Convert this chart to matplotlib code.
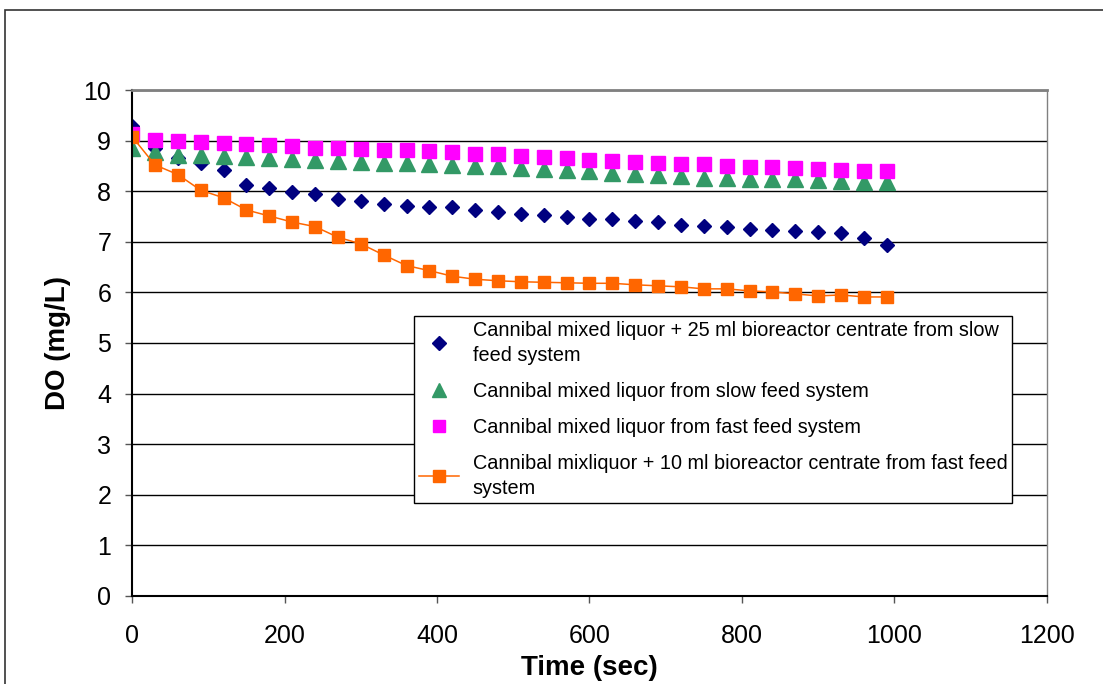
import matplotlib.pyplot as plt
from matplotlib.patches import Rectangle

# time axis (sec), sampled every 30 s
time_sec = list(range(0, 991, 30))

# DO readings (mg/L)
do_slow_centrate = [9.28, 8.85, 8.65, 8.55, 8.42, 8.12, 8.06, 7.98, 7.94, 7.84, 7.80, 7.75,
                    7.71, 7.69, 7.68, 7.63, 7.58, 7.55, 7.52, 7.49, 7.46, 7.46, 7.41, 7.39,
                    7.33, 7.31, 7.29, 7.25, 7.24, 7.22, 7.20, 7.18, 7.07, 6.94]
do_slow = [8.85, 8.78, 8.72, 8.71, 8.70, 8.67, 8.65, 8.64, 8.62, 8.60, 8.58, 8.55,
           8.55, 8.53, 8.52, 8.50, 8.49, 8.45, 8.43, 8.41, 8.39, 8.35, 8.34, 8.33,
           8.31, 8.27, 8.27, 8.25, 8.25, 8.24, 8.22, 8.21, 8.19, 8.19]
do_fast = [9.14, 9.02, 8.99, 8.97, 8.95, 8.93, 8.91, 8.89, 8.86, 8.85, 8.83, 8.81,
           8.81, 8.80, 8.77, 8.74, 8.73, 8.70, 8.68, 8.66, 8.62, 8.60, 8.58, 8.55,
           8.54, 8.53, 8.50, 8.48, 8.47, 8.45, 8.44, 8.42, 8.40, 8.39]
do_fast_centrate = [9.08, 8.52, 8.33, 8.02, 7.87, 7.63, 7.51, 7.39, 7.30, 7.09, 6.96, 6.74,
                    6.53, 6.43, 6.32, 6.26, 6.23, 6.21, 6.20, 6.19, 6.18, 6.18, 6.15, 6.13,
                    6.11, 6.07, 6.07, 6.03, 6.01, 5.97, 5.93, 5.95, 5.91, 5.91]

labels = [
    'Cannibal mixed liquor + 25 ml bioreactor centrate from slow\nfeed system',
    'Cannibal mixed liquor from slow feed system',
    'Cannibal mixed liquor from fast feed system',
    'Cannibal mixliquor + 10 ml bioreactor centrate from fast feed\nsystem',
]

plt.rcParams['font.family'] = ['Liberation Sans', 'DejaVu Sans']

fig = plt.figure(figsize=(11.03, 6.84), dpi=100)
ax = fig.add_axes([0.1197, 0.1287, 0.8295, 0.7397])

# outer chart border
fig.patches.append(Rectangle((0.0045, -0.1), 1.2, 1.0854, transform=fig.transFigure,
                             fill=False, edgecolor='#333333', linewidth=1.2))

ax.plot(time_sec, do_slow_centrate, linestyle='none', marker='D', ms=7.5,
        color='#000080', label=labels[0])
ax.plot(time_sec, do_slow, linestyle='none', marker='^', ms=11,
        color='#339966', label=labels[1])
ax.plot(time_sec, do_fast, linestyle='none', marker='s', ms=10.5,
        color='#FF00FF', label=labels[2])
ax.plot(time_sec, do_fast_centrate, linestyle='-', linewidth=1.1, marker='s', ms=8,
        color='#FF6600', label=labels[3])

ax.set_xlim(0, 1200)
ax.set_ylim(0, 10)
ax.set_xticks(range(0, 1201, 200))
ax.set_yticks(range(0, 11))
ax.yaxis.grid(True, color='black', linewidth=1)
ax.set_axisbelow(True)

ax.tick_params(direction='out', length=5, labelsize=18, width=1, color='#555555')
ax.tick_params(axis='x', pad=15)
ax.tick_params(axis='y', pad=10)
ax.spines['top'].set_color('#808080')
ax.spines['right'].set_color('#808080')
ax.spines['top'].set_linewidth(2)
ax.spines['right'].set_linewidth(1)
ax.spines['left'].set_linewidth(1.5)
ax.spines['bottom'].set_linewidth(1.5)

ax.set_xlabel('Time (sec)', fontsize=20, fontweight='bold', labelpad=5)
ax.set_ylabel('DO (mg/L)', fontsize=20, fontweight='bold', labelpad=9)

leg = ax.legend(loc='upper left', bbox_to_anchor=(0.3082, 0.5534), borderaxespad=0,
                fontsize=14.3, frameon=True, fancybox=False, edgecolor='black',
                framealpha=1, handlelength=2.0, handletextpad=0.7,
                labelspacing=0.85, borderpad=0.25)
leg.get_frame().set_linewidth(1)
for t in leg.get_texts():
    t.set_linespacing(1.4)
for h, ms in zip(leg.legend_handles, [7, 10, 9, 8]):
    h.set_markersize(ms)

fig.savefig('out.png', dpi=100)
